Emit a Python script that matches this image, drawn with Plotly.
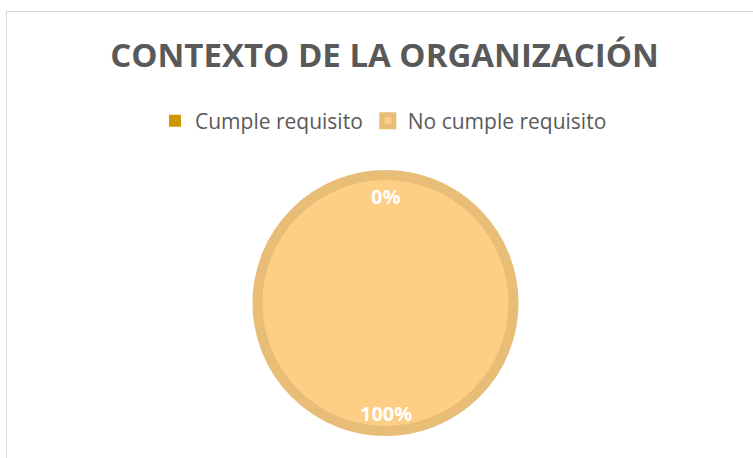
import plotly.graph_objects as go

title = "CONTEXTO DE LA ORGANIZACIÓN"
labels = ["Cumple requisito", "No cumple requisito"]
values = [0, 100]
colors = ["#CC9900", "#FDCE84"]
ring = "#E8BD78"

W, H = 753, 458
cx, cy, r = 385.5, 303, 128

total = sum(values)
pct = [f"{round(v / total * 100)}%" for v in values]

fig = go.Figure()
fig.add_trace(go.Pie(
    labels=labels,
    values=values,
    sort=False,
    direction="clockwise",
    rotation=0,
    textinfo="none",
    hoverinfo="label+percent",
    marker=dict(colors=colors, line=dict(color=[colors[0], ring], width=[0, 10])),
    domain=dict(x=[(cx - r) / W, (cx + r) / W], y=[(H - cy - r) / H, (H - cy + r) / H]),
    showlegend=True,
))

# data labels (Excel-style): first at top, second at bottom
label_y = [197, 413]
for t, yy in zip(pct, label_y):
    fig.add_annotation(
        text=f"<b>{t}</b>", x=cx / W, y=(H - yy) / H, xref="paper", yref="paper",
        showarrow=False, font=dict(family="Open Sans", size=20, color="white"),
        xanchor="center", yanchor="middle",
    )

fig.add_shape(type="rect", xref="paper", yref="paper",
              x0=6.5 / W, x1=1.2, y0=-0.2, y1=(H - 11.5) / H,
              line=dict(color="#D9D9D9", width=1), fillcolor="rgba(0,0,0,0)", layer="below")

fig.update_layout(
    width=W, height=H,
    margin=dict(l=0, r=0, t=0, b=0),
    paper_bgcolor="white", plot_bgcolor="white",
    title=dict(text=f"<b>{title}</b>", x=384.5 / W, xanchor="center",
               y=(H - 55) / H, yanchor="middle",
               font=dict(family="Open Sans", size=33, color="#595959")),
    legend=dict(orientation="h", x=155 / W, xanchor="left", y=(H - 121) / H, yanchor="middle",
                font=dict(family="Open Sans", size=21, color="#595959"),
                traceorder="normal"),
)

fig.write_html("out.html", config={"displayModeBar": False},
               post_script="document.body.style.margin='0';")
